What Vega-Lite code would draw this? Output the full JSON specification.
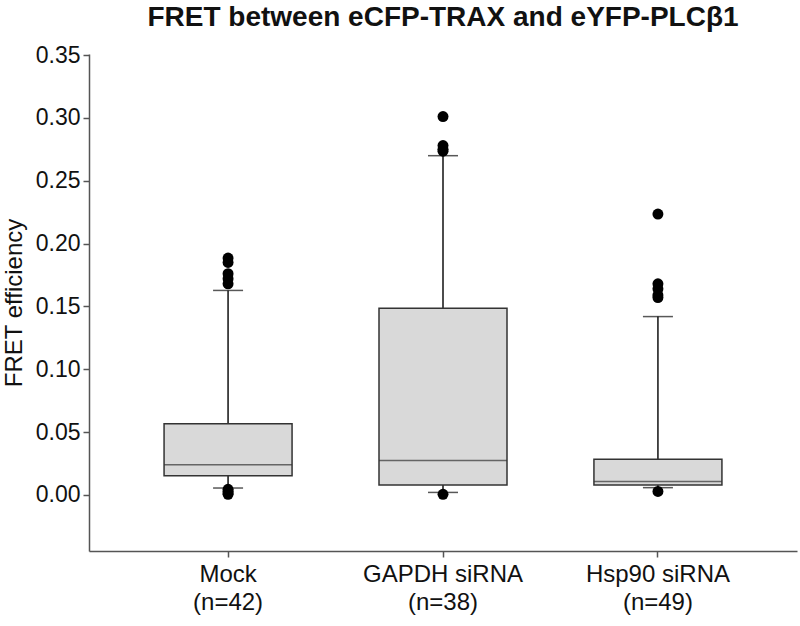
{
  "$schema": "https://vega.github.io/schema/vega-lite/v6.json",
  "autosize": {"type": "none"},
  "padding": {"left": 89, "top": 54, "right": 3, "bottom": 75},
  "width": 708,
  "height": 497,
  "background": "white",
  "title": {
    "text": "FRET between eCFP-TRAX and eYFP-PLCβ1",
    "font": "Liberation Sans",
    "fontSize": 28,
    "fontWeight": "bold",
    "color": "#111",
    "anchor": "middle",
    "frame": "group",
    "offset": 12
  },
  "datasets": {
    "stats": [
      {"group": "Mock|(n=42)", "lower": 0.0055, "q1": 0.0153, "median": 0.024, "q3": 0.0566, "upper": 0.1627},
      {"group": "GAPDH siRNA|(n=38)", "lower": 0.002, "q1": 0.008, "median": 0.0273, "q3": 0.1485, "upper": 0.2699},
      {"group": "Hsp90 siRNA|(n=49)", "lower": 0.0058, "q1": 0.008, "median": 0.0106, "q3": 0.0284, "upper": 0.1419}
    ],
    "outliers": [
      {"group": "Mock|(n=42)", "value": 0.1885},
      {"group": "Mock|(n=42)", "value": 0.185},
      {"group": "Mock|(n=42)", "value": 0.176},
      {"group": "Mock|(n=42)", "value": 0.172},
      {"group": "Mock|(n=42)", "value": 0.168},
      {"group": "Mock|(n=42)", "value": 0.0045},
      {"group": "Mock|(n=42)", "value": 0.003},
      {"group": "Mock|(n=42)", "value": 0.0015},
      {"group": "Mock|(n=42)", "value": 0.0005},
      {"group": "GAPDH siRNA|(n=38)", "value": 0.301},
      {"group": "GAPDH siRNA|(n=38)", "value": 0.278},
      {"group": "GAPDH siRNA|(n=38)", "value": 0.275},
      {"group": "GAPDH siRNA|(n=38)", "value": 0.2735},
      {"group": "GAPDH siRNA|(n=38)", "value": 0.0005},
      {"group": "Hsp90 siRNA|(n=49)", "value": 0.2235},
      {"group": "Hsp90 siRNA|(n=49)", "value": 0.168},
      {"group": "Hsp90 siRNA|(n=49)", "value": 0.164},
      {"group": "Hsp90 siRNA|(n=49)", "value": 0.159},
      {"group": "Hsp90 siRNA|(n=49)", "value": 0.157},
      {"group": "Hsp90 siRNA|(n=49)", "value": 0.0028}
    ]
  },
  "config": {
    "view": {"stroke": null},
    "axis": {
      "labelFont": "Liberation Sans",
      "titleFont": "Liberation Sans",
      "labelColor": "#111",
      "titleColor": "#111",
      "domainColor": "#555",
      "tickColor": "#555",
      "domainWidth": 1.5,
      "tickWidth": 1.5,
      "tickSize": 6,
      "grid": false
    }
  },
  "layer": [
    {
      "data": {"name": "stats"},
      "mark": {"type": "rule", "color": "#111", "strokeWidth": 1.5},
      "encoding": {
        "x": {
          "field": "group", "type": "nominal", "sort": null,
          "scale": {"type": "band", "paddingInner": 0, "paddingOuter": 0.147},
          "axis": {
            "title": null,
            "labelExpr": "split(datum.label, '|')",
            "labelAngle": 0,
            "labelFontSize": 24,
            "labelLineHeight": 28,
            "labelPadding": 5,
            "labelBaseline": "top"
          }
        },
        "y": {
          "field": "lower", "type": "quantitative",
          "scale": {"domain": [-0.0446, 0.3508], "nice": false, "zero": false},
          "axis": {
            "title": "FRET efficiency",
            "titleFontSize": 24,
            "titleFontWeight": "normal",
            "titlePadding": 9,
            "labelFontSize": 23,
            "labelPadding": 3,
            "values": [0, 0.05, 0.1, 0.15, 0.2, 0.25, 0.3, 0.35],
            "format": ".2f"
          }
        },
        "y2": {"field": "upper"}
      }
    },
    {
      "data": {"name": "stats"},
      "mark": {"type": "bar", "size": 128, "fill": "#d9d9d9", "stroke": "#333", "strokeWidth": 1.5},
      "encoding": {
        "x": {"field": "group", "type": "nominal", "sort": null},
        "y": {"field": "q1", "type": "quantitative"},
        "y2": {"field": "q3"}
      }
    },
    {
      "data": {"name": "stats"},
      "mark": {"type": "tick", "size": 128, "thickness": 1.5, "color": "#333"},
      "encoding": {
        "x": {"field": "group", "type": "nominal", "sort": null},
        "y": {"field": "median", "type": "quantitative"}
      }
    },
    {
      "data": {"name": "stats"},
      "mark": {"type": "tick", "size": 30, "thickness": 1.5, "color": "#111"},
      "encoding": {
        "x": {"field": "group", "type": "nominal", "sort": null},
        "y": {"field": "upper", "type": "quantitative"}
      }
    },
    {
      "data": {"name": "stats"},
      "mark": {"type": "tick", "size": 30, "thickness": 1.5, "color": "#111"},
      "encoding": {
        "x": {"field": "group", "type": "nominal", "sort": null},
        "y": {"field": "lower", "type": "quantitative"}
      }
    },
    {
      "data": {"name": "outliers"},
      "mark": {"type": "point", "shape": "circle", "filled": true, "size": 120, "color": "#000", "opacity": 1},
      "encoding": {
        "x": {"field": "group", "type": "nominal", "sort": null},
        "y": {"field": "value", "type": "quantitative"}
      }
    }
  ]
}
